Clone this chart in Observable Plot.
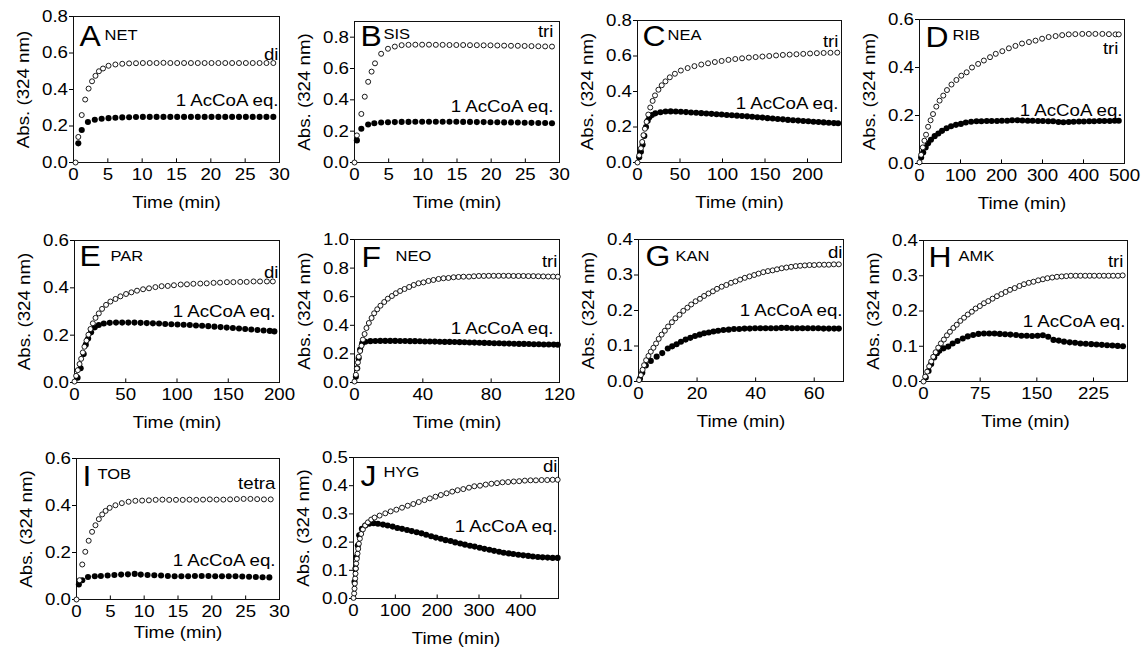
<!DOCTYPE html>
<html>
<head>
<meta charset="utf-8">
<script src="https://cdn.jsdelivr.net/npm/d3@7"></script>
<script src="https://cdn.jsdelivr.net/npm/@observablehq/plot@0.6"></script>
<style>
  html, body { margin: 0; padding: 0; background: #fff; }
  #wrap { position: relative; width: 1141px; height: 648px; overflow: hidden; background: #fff; }
  #wrap svg { position: absolute; overflow: visible; }
</style>
</head>
<body>
<div id="wrap"></div>
<script>
// ---------- data ----------
const letters = ["A","B","C","D","E","F","G","H","I","J"];
const drugs   = ["NET","SIS","NEA","RIB","PAR","NEO","KAN","AMK","TOB","HYG"];
const sites   = ["di","tri","tri","tri","di","tri","di","tri","tetra","di"];
const eqLabel = "1 AcCoA eq.";
const xLabel = "Time (min)";
const yLabel = "Abs. (324 nm)";
const xMax = [30, 30, 240, 500, 200, 120, 70, 270, 30, 490];
const yMax = [0.8, 0.9, 0.8, 0.6, 0.6, 1.0, 0.4, 0.4, 0.6, 0.5];
const xTicks = [
  [0,5,10,15,20,25,30], [0,5,10,15,20,25,30], [0,50,100,150,200], [0,100,200,300,400,500],
  [0,50,100,150,200], [0,40,80,120], [0,20,40,60], [0,75,150,225],
  [0,5,10,15,20,25,30], [0,100,200,300,400]
];
const yTicks = [
  [0,0.2,0.4,0.6,0.8], [0,0.2,0.4,0.6,0.8], [0,0.2,0.4,0.6,0.8], [0,0.2,0.4,0.6],
  [0,0.2,0.4,0.6], [0,0.2,0.4,0.6,0.8,1.0], [0,0.1,0.2,0.3,0.4], [0,0.1,0.2,0.3,0.4],
  [0,0.2,0.4,0.6], [0,0.1,0.2,0.3,0.4,0.5]
];

// open circles = multi-site acetylation; filled = 1 AcCoA eq.  [time, absorbance]
const A_open = [[0.3,0],[0.7,0.14],[1.2,0.26],[1.7,0.345],[2.2,0.405],[2.7,0.445],[3.2,0.475],[3.7,0.5],[4.3,0.515],[5.1,0.53],[6.1,0.537],[7.1,0.541],[8.1,0.543],[9.1,0.544],[10.1,0.545],[11.1,0.545],[12.1,0.545],[13.1,0.546],[14.1,0.545],[15.1,0.545],[16.1,0.545],[17.1,0.545],[18.1,0.545],[19.1,0.545],[20.1,0.545],[21.1,0.545],[22.1,0.545],[23.1,0.545],[24.1,0.545],[25.1,0.545],[26.1,0.545],[27.1,0.545],[28.1,0.545],[29.1,0.545]];
const A_fill = [[0.7,0.105],[1.2,0.178],[2.1,0.222],[3.1,0.234],[4.1,0.24],[5.1,0.243],[6.1,0.245],[7.1,0.247],[8.1,0.248],[9.1,0.249],[10.1,0.25],[11.1,0.25],[12.1,0.25],[13.1,0.25],[14.1,0.25],[15.1,0.25],[16.1,0.25],[17.1,0.25],[18.1,0.25],[19.1,0.25],[20.1,0.25],[21.1,0.25],[22.1,0.25],[23.1,0.25],[24.1,0.25],[25.1,0.25],[26.1,0.25],[27.1,0.25],[28.1,0.25],[29.1,0.25]];

const B_open = [[0,0],[0.35,0.173],[1,0.31],[1.5,0.42],[2,0.515],[2.5,0.58],[3,0.633],[3.9,0.694],[4.9,0.726],[5.9,0.74],[6.9,0.749],[7.9,0.751],[8.9,0.752],[9.9,0.752],[10.9,0.752],[11.9,0.751],[12.9,0.751],[13.9,0.75],[14.9,0.75],[15.9,0.75],[16.9,0.749],[17.9,0.749],[18.9,0.748],[19.9,0.748],[20.9,0.747],[21.9,0.746],[22.9,0.745],[23.9,0.745],[24.9,0.744],[25.9,0.743],[26.9,0.742],[27.9,0.741],[28.9,0.74]];
const B_fill = [[0.35,0.141],[1,0.215],[2,0.243],[2.9,0.251],[3.9,0.255],[4.9,0.257],[5.9,0.258],[6.9,0.259],[7.9,0.259],[8.9,0.26],[9.9,0.26],[10.9,0.26],[11.9,0.26],[12.9,0.26],[13.9,0.26],[14.9,0.26],[15.9,0.259],[16.9,0.259],[17.9,0.258],[18.9,0.258],[19.9,0.257],[20.9,0.257],[21.9,0.256],[22.9,0.256],[23.9,0.255],[24.9,0.254],[25.9,0.253],[26.9,0.252],[27.9,0.252],[28.9,0.251]];

const C_open = [[0,0],[2,0.04],[4,0.08],[5.5,0.116],[7,0.154],[8.7,0.19],[10.7,0.229],[12.7,0.27],[15,0.31],[17.8,0.347],[20.6,0.378],[24.6,0.41],[28.5,0.435],[32.9,0.457],[38,0.48],[44,0.5],[51,0.518],[59,0.532],[67,0.543],[75,0.552],[83,0.559],[91,0.566],[99,0.572],[107,0.578],[115,0.583],[123,0.587],[131,0.591],[139,0.594],[147,0.597],[155,0.6],[163,0.603],[171,0.606],[179,0.608],[187,0.61],[195,0.612],[203,0.614],[211,0.616],[219,0.617],[227,0.618],[235,0.619]];
const C_fill = [[2,0.03],[4,0.06],[6,0.1],[8,0.15],[10,0.2],[12,0.235],[14,0.255],[17,0.268],[21,0.277],[27,0.283],[33,0.287],[39,0.288],[45,0.287],[51,0.286],[57,0.284],[63,0.282],[69,0.28],[75,0.278],[81,0.276],[87,0.274],[93,0.272],[99,0.27],[105,0.268],[111,0.266],[117,0.264],[123,0.262],[129,0.26],[135,0.258],[141,0.255],[147,0.253],[153,0.25],[159,0.248],[165,0.245],[171,0.243],[177,0.24],[183,0.238],[189,0.236],[195,0.234],[201,0.232],[207,0.23],[213,0.228],[219,0.226],[225,0.224],[231,0.222],[236,0.221]];

const D_open = [[0,0.005],[4,0.036],[8,0.067],[12,0.095],[16,0.12],[21,0.153],[27,0.18],[33,0.206],[41,0.237],[49,0.262],[58,0.283],[67,0.306],[78,0.329],[90,0.348],[102,0.366],[115,0.38],[128,0.4],[143,0.415],[157,0.429],[172,0.443],[186,0.457],[202,0.468],[218,0.48],[234,0.49],[250,0.5],[267,0.506],[283,0.512],[299,0.52],[315,0.527],[332,0.531],[348,0.535],[364,0.538],[380,0.539],[397,0.54],[413,0.54],[429,0.54],[446,0.54],[462,0.539],[478,0.538],[486,0.538]];
const D_fill = [[4,0.025],[9,0.046],[15,0.067],[21,0.084],[28,0.099],[37,0.114],[46,0.125],[55,0.136],[66,0.147],[77,0.155],[89,0.161],[101,0.165],[113,0.171],[126,0.174],[139,0.176],[151,0.176],[164,0.177],[176,0.177],[189,0.177],[201,0.178],[214,0.178],[226,0.18],[239,0.18],[251,0.179],[264,0.178],[276,0.178],[289,0.177],[301,0.177],[314,0.176],[326,0.176],[339,0.173],[351,0.172],[364,0.173],[376,0.174],[389,0.175],[401,0.175],[414,0.176],[426,0.176],[439,0.177],[451,0.177],[464,0.177],[476,0.178],[486,0.178]];

const E_open = [[0,0.004],[1.6,0.028],[3.2,0.052],[4.9,0.078],[6.5,0.1],[8.1,0.127],[9.7,0.151],[11.7,0.177],[13.6,0.202],[15.6,0.226],[17.9,0.25],[20.5,0.273],[23.7,0.292],[26.9,0.311],[30.8,0.328],[35,0.342],[40,0.353],[44.8,0.364],[50.3,0.374],[55.5,0.381],[61,0.388],[66.9,0.394],[72.7,0.398],[78.9,0.403],[85,0.407],[91,0.408],[97,0.411],[103.6,0.414],[109.7,0.415],[116,0.417],[122.7,0.418],[129,0.419],[135.7,0.421],[142,0.422],[148.7,0.424],[155,0.424],[161.7,0.425],[168,0.425],[174.7,0.427],[181,0.427],[187.7,0.427],[193.5,0.427]];
const E_fill = [[3,0.02],[6,0.06],[9,0.12],[11,0.16],[13.3,0.186],[16.2,0.212],[19.8,0.233],[23.7,0.243],[28.6,0.249],[34.4,0.252],[40.5,0.253],[46.5,0.253],[52.5,0.253],[58.5,0.253],[64.5,0.252],[70.5,0.251],[76.5,0.25],[82.5,0.249],[88.5,0.247],[94.5,0.246],[100.5,0.245],[106.5,0.244],[112.5,0.243],[118.5,0.241],[124.5,0.24],[130.5,0.238],[136.5,0.236],[142.5,0.234],[148.5,0.232],[154.5,0.23],[160.5,0.228],[166.5,0.226],[172.5,0.224],[178.5,0.222],[184.5,0.22],[190.5,0.218],[195,0.216]];

const F_open = [[0,0.007],[0.8,0.054],[1.4,0.098],[2,0.14],[2.5,0.18],[3.3,0.22],[4.1,0.257],[4.9,0.3],[5.9,0.339],[7,0.381],[8.4,0.416],[10,0.451],[11.5,0.484],[13.3,0.512],[15.2,0.537],[17.4,0.563],[19.5,0.586],[21.9,0.605],[24.2,0.624],[26.7,0.64],[29.3,0.654],[32,0.668],[34.7,0.682],[37.5,0.694],[40.4,0.7],[43.3,0.71],[46.2,0.717],[49.2,0.724],[52.1,0.729],[55,0.731],[58,0.736],[60.9,0.738],[63.8,0.74],[67,0.74],[69.9,0.743],[72.8,0.745],[75.7,0.745],[78.6,0.746],[81.5,0.746],[84.4,0.746],[87.3,0.746],[90.2,0.746],[93.1,0.745],[96,0.745],[98.9,0.745],[101.8,0.744],[104.7,0.744],[107.6,0.743],[110.5,0.742],[113.4,0.741],[116.3,0.741],[119,0.74]];
const F_fill = [[0.8,0.04],[1.6,0.1],[2.4,0.17],[3.3,0.23],[4.5,0.275],[6.4,0.285],[9.3,0.289],[12.2,0.29],[15.1,0.291],[18,0.291],[20.9,0.291],[23.8,0.291],[26.7,0.29],[29.6,0.29],[32.5,0.289],[35.4,0.289],[38.3,0.288],[41.2,0.287],[44.1,0.287],[47,0.286],[49.9,0.285],[52.8,0.284],[55.7,0.284],[58.6,0.283],[61.5,0.282],[64.4,0.281],[67.3,0.28],[70.2,0.279],[73.1,0.278],[76,0.277],[78.9,0.276],[81.8,0.275],[84.7,0.274],[87.6,0.273],[90.5,0.272],[93.4,0.271],[96.3,0.27],[99.2,0.27],[102.1,0.269],[105,0.268],[107.9,0.267],[110.8,0.266],[113.7,0.266],[116.6,0.265],[119,0.264]];

const G_open = [[0.2,0.004],[0.8,0.018],[1.4,0.033],[1.9,0.046],[2.6,0.06],[3.4,0.072],[4.2,0.084],[5.1,0.095],[6,0.107],[6.9,0.12],[7.9,0.132],[9,0.143],[10.1,0.155],[11.4,0.167],[12.6,0.178],[14,0.188],[15.3,0.199],[16.7,0.208],[18,0.217],[19.5,0.226],[21,0.233],[22.4,0.241],[23.9,0.248],[25.4,0.254],[26.8,0.261],[28.4,0.267],[30,0.272],[31.6,0.278],[33.1,0.282],[34.7,0.287],[36.3,0.292],[37.9,0.296],[39.5,0.3],[41,0.304],[42.6,0.308],[44.2,0.311],[45.8,0.313],[47.3,0.316],[48.9,0.319],[50.5,0.321],[52.1,0.323],[53.7,0.325],[55.2,0.326],[56.8,0.327],[58.4,0.328],[60,0.328],[61.7,0.329],[63.4,0.329],[65,0.329],[66.7,0.33],[68.4,0.33]];
const G_fill = [[0.5,0.008],[1.3,0.025],[2.5,0.045],[4.2,0.058],[6.2,0.07],[8.1,0.08],[10,0.093],[11.5,0.099],[13,0.105],[14.5,0.112],[16.1,0.118],[17.7,0.123],[19.3,0.128],[20.9,0.132],[22.4,0.136],[24,0.138],[25.6,0.141],[27.2,0.143],[29,0.145],[30.8,0.146],[32.6,0.148],[34.4,0.148],[36.2,0.149],[38,0.149],[39.8,0.15],[41.6,0.15],[43.4,0.15],[45.2,0.15],[47,0.15],[48.8,0.151],[50.6,0.151],[52.4,0.15],[54.2,0.15],[56,0.15],[57.8,0.15],[59.6,0.15],[61.4,0.15],[63.2,0.149],[65,0.149],[66.8,0.149],[68.4,0.149]];

const H_open = [[0,0],[2.2,0.014],[4.9,0.028],[7.5,0.043],[10.2,0.057],[12.9,0.07],[16,0.083],[19.5,0.096],[23,0.108],[27,0.119],[31,0.131],[35,0.141],[39.5,0.152],[44,0.161],[48.8,0.172],[53.7,0.181],[58.6,0.19],[64,0.198],[69,0.207],[74.6,0.214],[80,0.222],[85.7,0.228],[91.4,0.235],[97.2,0.242],[103,0.248],[108.7,0.254],[114.5,0.26],[120.7,0.265],[127,0.271],[133,0.276],[139.4,0.28],[145.6,0.283],[151.8,0.287],[158,0.29],[164,0.293],[170.4,0.295],[176.6,0.297],[182.9,0.298],[189,0.299],[195,0.3],[201.5,0.3],[207.7,0.3],[214,0.3],[220,0.3],[226,0.3],[232.6,0.3],[238.8,0.3],[245,0.3],[251,0.3],[257.4,0.3],[263.6,0.301]];
const H_fill = [[3,0.011],[6.7,0.03],[10.2,0.05],[14.2,0.068],[17.8,0.08],[21,0.087],[26.6,0.094],[32.8,0.099],[38.6,0.108],[45,0.115],[52,0.122],[58.6,0.128],[65.7,0.132],[72.8,0.135],[80,0.136],[87,0.136],[94,0.136],[101,0.135],[108,0.134],[115,0.133],[122.5,0.132],[129.6,0.13],[136.7,0.13],[143.8,0.129],[151,0.13],[158,0.131],[165,0.127],[172,0.118],[179,0.116],[186,0.113],[193.5,0.111],[200.6,0.11],[207.7,0.108],[214.8,0.107],[222,0.106],[229,0.105],[236,0.104],[243,0.103],[250,0.102],[257,0.101],[264,0.1]];

const I_open = [[0,0],[0.45,0.082],[0.85,0.149],[1.3,0.203],[1.8,0.25],[2.3,0.288],[2.8,0.316],[3.3,0.342],[3.8,0.362],[4.3,0.377],[4.9,0.39],[5.75,0.401],[6.7,0.41],[7.7,0.416],[8.7,0.42],[9.7,0.421],[10.7,0.422],[11.7,0.424],[12.7,0.425],[13.7,0.424],[14.7,0.424],[15.7,0.424],[16.7,0.425],[17.7,0.424],[18.7,0.425],[19.7,0.426],[20.7,0.425],[21.7,0.425],[22.7,0.426],[23.7,0.427],[24.7,0.428],[25.7,0.428],[26.7,0.427],[27.7,0.426],[28.7,0.426]];
const I_fill = [[0.35,0.064],[0.85,0.082],[1.7,0.096],[2.7,0.099],[3.6,0.1],[4.6,0.102],[5.6,0.104],[6.6,0.106],[7.6,0.107],[8.6,0.109],[9.5,0.106],[10.5,0.104],[11.5,0.103],[12.5,0.102],[13.5,0.1],[14.5,0.099],[15.5,0.099],[16.5,0.099],[17.5,0.1],[18.5,0.1],[19.5,0.1],[20.5,0.099],[21.5,0.099],[22.5,0.099],[23.5,0.099],[24.5,0.098],[25.5,0.097],[26.5,0.096],[27.5,0.095],[28.5,0.094]];

const J_open = [[0,0.002],[1.6,0.018],[2.4,0.035],[3.2,0.053],[4,0.071],[4.8,0.088],[5.6,0.106],[6.4,0.124],[8,0.141],[9.6,0.159],[11.2,0.176],[12.8,0.194],[15.2,0.212],[18.4,0.229],[22.4,0.245],[28,0.259],[34.4,0.27],[42.4,0.28],[50.4,0.287],[62.4,0.294],[76,0.302],[88.8,0.309],[102.4,0.315],[116,0.322],[129.6,0.329],[143,0.335],[156,0.342],[169.6,0.349],[182.4,0.355],[196,0.361],[208.8,0.367],[222.4,0.373],[236,0.379],[248.8,0.384],[262.4,0.388],[276,0.393],[288.8,0.398],[302.4,0.4],[316,0.404],[329.6,0.407],[343,0.409],[356,0.412],[369.6,0.413],[383,0.415],[396,0.416],[409.6,0.418],[423,0.419],[436,0.419],[449.6,0.42],[463,0.42],[476,0.421],[488,0.421]];
const J_fill = [[2.4,0.059],[4.8,0.106],[7.2,0.147],[10.4,0.188],[13.6,0.224],[20,0.247],[28,0.259],[37.6,0.265],[48,0.267],[58.4,0.265],[70.4,0.262],[81.6,0.259],[93.6,0.255],[104.8,0.25],[116,0.247],[128,0.243],[139,0.239],[151,0.235],[162.4,0.231],[173.6,0.226],[185.6,0.221],[196.8,0.216],[208.8,0.212],[220,0.207],[232,0.204],[243,0.199],[255,0.195],[266.4,0.191],[278.4,0.187],[289.6,0.184],[301.6,0.18],[312.8,0.176],[324.8,0.173],[336,0.169],[348,0.166],[359,0.162],[371,0.16],[382,0.158],[394,0.155],[405.6,0.153],[417.6,0.151],[428.8,0.149],[440.8,0.147],[452,0.146],[464,0.145],[476,0.144],[488,0.144]];

const openSeries = [A_open,B_open,C_open,D_open,E_open,F_open,G_open,H_open,I_open,J_open];
const fillSeries = [A_fill,B_fill,C_fill,D_fill,E_fill,F_fill,G_fill,H_fill,I_fill,J_fill];

// ---------- layout (pixel frame boxes & text offsets) ----------
const frames = [
  [73,279,16,162],[354,559,21,162],[637,841,20,162],[919,1124,19,163],
  [74,279,240,382],[354,559,239,382],[638,843,239,381],[923,1127,240,381],
  [76,279,458,599],[353,558,457,598]
];
// [letter dx, letter dy, name dx, name dy, site dx, site dy, eq dx, eq dy, xlabel dy]
const textPos = [
  [6,29,31,23,-1,43,-1,89,45],
  [6,24,29,17,-6,15,-6,90,45],
  [5,25,30,19,-3,26,-3,88,45],
  [6,27,33,20,-6,34,-2,96,45],
  [5,25,36,20,-1,37,-4,76,45],
  [7,27,41,21,-2,27,-6,94,45],
  [7,26,37,21,-1,18,-1,76,45],
  [5,26,35,20,-4,26,-2,86,45],
  [6,27,21,20,-4,30,-4,107,38],
  [7,28,30,19,-1,14,-1,74,45]
];

const FONT = "'Liberation Sans', Arial, Helvetica, sans-serif";
const STRETCH = 1.1; // reference glyphs are slightly wider than Arial
const mL = 80, mT = 30, mR = 14, mB = 56;
const wrap = document.getElementById("wrap");

letters.forEach((letter, i) => {
  const [x0, x1, y0, y1] = frames[i];
  const tp = textPos[i];
  const yDec = d3.format(".1f");
  const chart = Plot.plot({
    width: (x1 - x0) + mL + mR,
    height: (y1 - y0) + mT + mB,
    marginLeft: mL, marginRight: mR, marginTop: mT, marginBottom: mB,
    style: {fontFamily: FONT, fontSize: "17px", color: "#000", background: "transparent"},
    x: {domain: [0, xMax[i]]},
    y: {domain: [0, yMax[i]]},
    marks: [
      Plot.axisY({ticks: yTicks[i], tickFormat: yDec, tickSize: 4, tickPadding: 1.5, label: null, fontSize: 17}),
      Plot.axisX({ticks: xTicks[i], tickSize: 0, tickPadding: 5, label: null, fontSize: 17}),
      Plot.ruleX(xTicks[i], {x: d => d, y1: 0, y2: yMax[i] * 0.025, stroke: "#000"}),
      Plot.frame({stroke: "#111", strokeWidth: 1}),
      Plot.dot(fillSeries[i], {x: d => d[0], y: d => d[1], r: 3.05, fill: "#000", stroke: "none"}),
      Plot.dot(openSeries[i], {x: d => d[0], y: d => d[1], r: 2.5, fill: "#fff", stroke: "#000", strokeWidth: 0.9}),
      Plot.text([letter], {text: d => d, frameAnchor: "top-left", dx: tp[0], dy: tp[1], textAnchor: "start", lineAnchor: "bottom", fontSize: 29}),
      Plot.text([drugs[i]], {text: d => d, frameAnchor: "top-left", dx: tp[2], dy: tp[3], textAnchor: "start", lineAnchor: "bottom", fontSize: 15}),
      Plot.text([sites[i]], {text: d => d, frameAnchor: "top-right", dx: tp[4], dy: tp[5], textAnchor: "end", lineAnchor: "bottom", fontSize: 17}),
      Plot.text([eqLabel], {text: d => d, frameAnchor: "top-right", dx: tp[6], dy: tp[7], textAnchor: "end", lineAnchor: "bottom", fontSize: 17}),
      Plot.text([xLabel], {text: d => d, frameAnchor: "bottom", dy: tp[8], textAnchor: "middle", lineAnchor: "bottom", fontSize: 17}),
      Plot.text([yLabel], {text: d => d, frameAnchor: "left", dx: -45, rotate: -90, textAnchor: "middle", lineAnchor: "bottom", fontSize: 17})
    ]
  });
  // widen glyphs about their own anchor point
  chart.querySelectorAll("text").forEach(t => {
    const tr = t.getAttribute("transform") || "";
    t.setAttribute("transform", (tr + ` scale(${STRETCH},1)`).trim());
  });
  chart.style.left = (x0 - mL) + "px";
  chart.style.top = (y0 - mT) + "px";
  wrap.appendChild(chart);
});
</script>
</body>
</html>
